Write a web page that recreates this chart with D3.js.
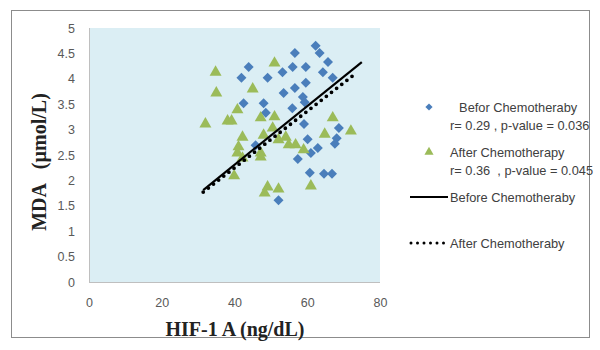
<!DOCTYPE html>
<html>
<head>
<meta charset="utf-8">
<script src="https://cdn.jsdelivr.net/npm/d3@7"></script>
<style>
  body { margin: 0; background: #fff; }
  svg { display: block; }
</style>
</head>
<body>
<div id="chart"></div>
<script>
// before chemotherapy (blue diamonds)
const beforeX = [62.3, 63.4, 56.6, 65.7, 43.9, 56.0, 59.6, 41.9, 49.1, 53.2, 64.3, 67.0, 59.6, 56.6, 53.5, 58.8, 59.3, 42.5, 48.0, 55.9, 48.6, 59.1, 68.7, 68.1, 60.1, 67.6, 62.9, 61.0, 57.4, 60.7, 64.6, 66.8, 52.1, 45.8];
const beforeY = [4.65, 4.51, 4.51, 4.33, 4.23, 4.23, 4.23, 4.02, 4.02, 4.13, 4.13, 4.02, 3.92, 3.82, 3.72, 3.64, 3.54, 3.52, 3.52, 3.42, 3.33, 3.11, 3.03, 2.83, 2.81, 2.72, 2.64, 2.54, 2.42, 2.15, 2.13, 2.13, 1.61, 2.69];
// after chemotherapy (green triangles)
const afterX = [34.8, 35.0, 51.0, 45.0, 40.8, 38.1, 39.2, 32.0, 47.2, 51.0, 67.0, 72.0, 64.8, 42.2, 41.1, 40.8, 42.2, 48.0, 50.5, 52.1, 54.1, 54.9, 56.8, 59.0, 47.2, 47.2, 39.9, 49.1, 48.3, 52.1, 61.0];
const afterY = [4.13, 3.72, 4.31, 3.80, 3.39, 3.17, 3.17, 3.11, 3.23, 3.25, 3.23, 2.97, 2.91, 2.85, 2.66, 2.54, 2.44, 2.89, 3.03, 2.80, 2.85, 2.70, 2.70, 2.60, 2.54, 2.46, 2.09, 1.87, 1.75, 1.83, 1.89];
// trend lines (end points)
const beforeLineX = [31.4, 75.0];
const beforeLineY = [1.81, 4.33];
const afterLineX = [31.4, 73.6];
const afterLineY = [1.77, 4.12];

const xTicks = [0, 20, 40, 60, 80];
const yTicks = [0, 0.5, 1, 1.5, 2, 2.5, 3, 3.5, 4, 4.5, 5];

const legendItems = [
  { kind: 'diamond', lines: ['  Befor Chemotheraby', 'r= 0.29 , p-value = 0.036'] },
  { kind: 'triangle', lines: ['After Chemotherapy', 'r= 0.36  , p-value = 0.045'] },
  { kind: 'solid', lines: ['Before Chemotheraby'] },
  { kind: 'dotted', lines: ['After Chemotheraby'] }
];

const blue = '#4a7ebb', green = '#9bbb59';
const W = 600, H = 350;
const plot = { left: 89, right: 380, top: 28, bottom: 282 };

const svg = d3.select('#chart').append('svg')
  .attr('width', W).attr('height', H);

// outer frame
svg.append('rect')
  .attr('x', 11.5).attr('y', 10.5)
  .attr('width', 578).attr('height', 327)
  .attr('fill', '#fff').attr('stroke', '#8c8c8c');

const x = d3.scaleLinear().domain([0, 80]).range([plot.left, plot.right]);
const y = d3.scaleLinear().domain([0, 5]).range([plot.bottom, plot.top]);

// plot area
svg.append('rect')
  .attr('x', plot.left).attr('y', plot.top)
  .attr('width', plot.right - plot.left).attr('height', plot.bottom - plot.top)
  .attr('fill', '#dbeef4');

svg.append('line')
  .attr('x1', plot.left + 0.5).attr('x2', plot.left + 0.5)
  .attr('y1', plot.top).attr('y2', plot.bottom)
  .attr('stroke', '#bfbfbf');
svg.append('line')
  .attr('x1', plot.left).attr('x2', plot.right)
  .attr('y1', plot.bottom + 0.5).attr('y2', plot.bottom + 0.5)
  .attr('stroke', '#bfbfbf');

// axes
const yAxis = svg.append('g')
  .attr('transform', 'translate(' + (plot.left - 14) + ',0)')
  .call(d3.axisLeft(y).tickValues(yTicks).tickSize(0).tickFormat(d3.format('')));
yAxis.select('.domain').remove();
yAxis.selectAll('text')
  .attr('x', 0)
  .style('font-family', 'Liberation Sans, Arial, sans-serif')
  .style('font-size', '12.5px').attr('fill', '#595959');

const xAxis = svg.append('g')
  .attr('transform', 'translate(0,' + (plot.bottom + 13) + ')')
  .call(d3.axisBottom(x).tickValues(xTicks).tickSize(0));
xAxis.select('.domain').remove();
xAxis.selectAll('text')
  .style('font-family', 'Liberation Sans, Arial, sans-serif')
  .style('font-size', '12.5px').attr('fill', '#595959');

// axis titles
svg.append('text')
  .attr('transform', 'translate(46,162) rotate(-90)')
  .attr('text-anchor', 'middle')
  .style('font-family', 'Liberation Serif, Times New Roman, serif')
  .style('font-weight', 'bold').style('font-size', '20px')
  .style('white-space', 'pre')
  .attr('fill', '#222')
  .text('MDA   (µmol/L)');

svg.append('text')
  .attr('x', 235).attr('y', 336)
  .attr('text-anchor', 'middle')
  .style('font-family', 'Liberation Serif, Times New Roman, serif')
  .style('font-weight', 'bold').style('font-size', '20px')
  .attr('fill', '#222')
  .text('HIF-1 A (ng/dL)');

const diamond = d3.symbol().type(d3.symbolSquare).size(50);
const triangle = d3.symbol().type(d3.symbolTriangle).size(62);

// before points
svg.append('g').selectAll('path')
  .data(beforeX.map((v, i) => [v, beforeY[i]]))
  .enter().append('path')
    .attr('d', diamond)
    .attr('transform', d => 'translate(' + x(d[0]) + ',' + y(d[1]) + ') rotate(45)')
    .attr('fill', blue);

// after points
svg.append('g').selectAll('path')
  .data(afterX.map((v, i) => [v, afterY[i]]))
  .enter().append('path')
    .attr('d', triangle)
    .attr('transform', d => 'translate(' + x(d[0]) + ',' + y(d[1]) + ')')
    .attr('fill', green);

// trend lines
const line = d3.line().x(d => x(d[0])).y(d => y(d[1]));
svg.append('path')
  .attr('d', line(beforeLineX.map((v, i) => [v, beforeLineY[i]])))
  .attr('stroke', '#000').attr('stroke-width', 2.2).attr('fill', 'none');
svg.append('path')
  .attr('d', line(afterLineX.map((v, i) => [v, afterLineY[i]])))
  .attr('stroke', '#000').attr('stroke-width', 3.8).attr('fill', 'none')
  .attr('stroke-linecap', 'round').attr('stroke-dasharray', '0 6.5');

// legend
const legendTop = [107, 152, 197, 243];
const lg = svg.append('g')
  .style('font-family', 'Liberation Sans, Arial, sans-serif')
  .style('font-size', '12.8px');
legendItems.forEach((item, i) => {
  const cy = legendTop[i];
  if (item.kind === 'diamond') {
    lg.append('path').attr('d', d3.symbol().type(d3.symbolSquare).size(26))
      .attr('transform', 'translate(429,' + cy + ') rotate(45)').attr('fill', blue);
  } else if (item.kind === 'triangle') {
    lg.append('path').attr('d', d3.symbol().type(d3.symbolTriangle).size(36))
      .attr('transform', 'translate(429,' + cy + ')').attr('fill', green);
  } else if (item.kind === 'solid') {
    lg.append('line').attr('x1', 410).attr('x2', 448).attr('y1', cy).attr('y2', cy)
      .attr('stroke', '#000').attr('stroke-width', 2);
  } else {
    lg.append('line').attr('x1', 411).attr('x2', 447).attr('y1', cy).attr('y2', cy)
      .attr('stroke', '#000').attr('stroke-width', 3)
      .attr('stroke-linecap', 'round').attr('stroke-dasharray', '0 6.5');
  }
  item.lines.forEach((t, j) => {
    lg.append('text')
      .attr('x', j === 0 && item.kind === 'diamond' ? 452 : 450)
      .attr('y', cy + 4.5 + j * 18)
      .style('white-space', 'pre')
      .attr('fill', '#404040')
      .text(t);
  });
});
</script>
</body>
</html>
